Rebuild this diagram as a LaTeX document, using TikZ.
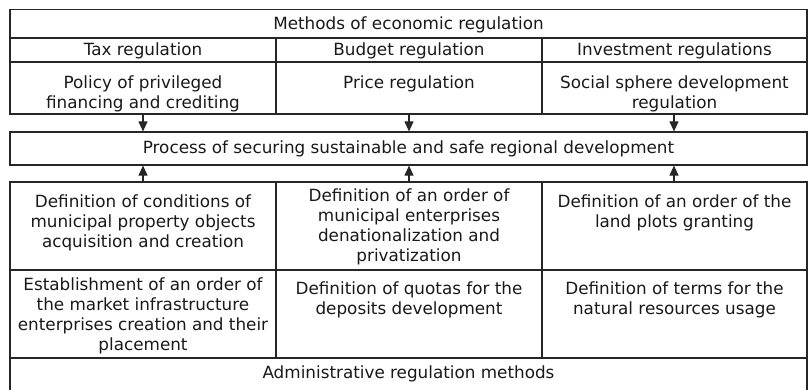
\documentclass[tikz,border=0pt]{standalone}
\usepackage{fontspec}
\setmainfont{DejaVu Sans}
\usetikzlibrary{arrows.meta}
\usetikzlibrary{positioning}

\begin{document}
\begin{tikzpicture}[x=1pt,y=-1pt,
  txt/.style={anchor=base,align=center,inner sep=0pt,text=black!90,font=\fontsize{16.8}{20}\selectfont},
  rule/.style={line width=1.2pt,black!85},
  arr/.style={line width=1.1pt,black!85,-{Triangle[length=10pt,width=9pt]}}]
\useasboundingbox (0,0) rectangle (811,389);
\clip (0,0) rectangle (811,389);
\draw[rule] (10,9.5) rectangle (807,114);
\draw[rule] (10,38) -- (807,38);
\draw[rule] (10,62) -- (807,62);
\draw[rule] (276,38) -- (276,114);
\draw[rule] (542,38) -- (542,114);
\node[txt] (methods) at (408.5,29) {Methods of economic regulation};
\node[txt] (tax) at (143,55.5) {Tax regulation};
\node[txt] (budget) at (409,55.5) {Budget regulation};
\node[txt] (invest) at (674.5,55.5) {Investment regulations};
\node[txt] (policy) at (143,108.5) {Policy of privileged\\financing and crediting};
\node[txt] (price) at (409,88.5) {Price regulation};
\node[txt] (social) at (674.5,108.5) {Social sphere development\\regulation};
\node[draw,rule,minimum width=797pt,minimum height=33pt,inner sep=0pt,
  text=black!90,font=\fontsize{16.8}{20}\selectfont] (process) at (408.5,148.5)
  {Process of securing sustainable and safe regional development};
\draw[rule] (10,182) rectangle (807,398);
\draw[rule] (10,270) -- (807,270);
\draw[rule] (10,358) -- (807,358);
\draw[rule] (276,182) -- (276,358);
\draw[rule] (542,182) -- (542,358);
\node[txt] (property) at (143,247) {Definition of conditions of\\municipal property objects\\acquisition and creation};
\node[txt] (privat) at (409,261) {Definition of an order of\\municipal enterprises\\denationalization and\\privatization};
\node[txt] (land) at (674.5,227) {Definition of an order of the\\land plots granting};
\node[txt] (infra) at (143,350) {Establishment of an order of\\the market infrastructure\\enterprises creation and their\\placement};
\node[txt] (quotas) at (409,314) {Definition of quotas for the\\deposits development};
\node[txt] (terms) at (674.5,314) {Definition of terms for the\\natural resources usage};
\node[txt] (admin) at (408.5,378.5) {Administrative regulation methods};
\coordinate (a1) at (143,114);
\coordinate (a2) at (409,114);
\coordinate (a3) at (674,114);
\coordinate (b1) at (143,182);
\coordinate (b2) at (409,182);
\coordinate (b3) at (674,182);
\foreach \c in {a1,a2,a3} \draw[arr] (\c) -- (\c |- process.north);
\foreach \c in {b1,b2,b3} \draw[arr] (\c) -- (\c |- process.south);
\end{tikzpicture}
\end{document}
